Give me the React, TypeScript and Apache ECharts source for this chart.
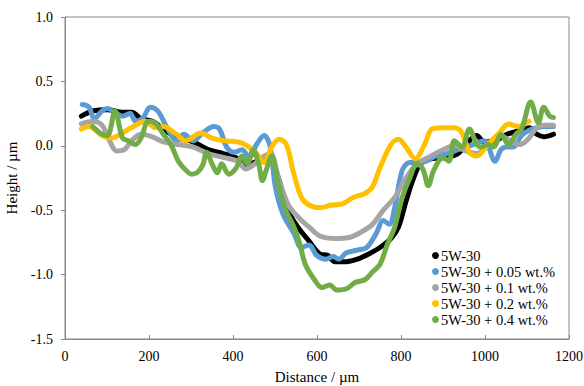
import React, { useEffect, useRef } from "react";
import * as echarts from "echarts";

const seriesNames = [
  "5W-30",
  "5W-30 + 0.05 wt.%",
  "5W-30 + 0.1 wt.%",
  "5W-30 + 0.2 wt.%",
  "5W-30 + 0.4 wt.%",
];

const colors = ["#000000", "#5B9BD5", "#A5A5A5", "#FFC000", "#70AD47"];

const base: number[][] = [
  [39, 0.23], [66, 0.27], [101, 0.28], [137, 0.26], [159, 0.26], [181, 0.21], [208, 0.19],
  [234, 0.13], [270, 0.06], [305, 0.03], [341, -0.03], [377, -0.06], [412, -0.1], [434, -0.15],
  [456, -0.12], [483, -0.09], [510, -0.27], [527, -0.48], [554, -0.63], [581, -0.74], [607, -0.84],
  [625, -0.85], [643, -0.9], [670, -0.9], [696, -0.88], [723, -0.84], [750, -0.79], [776, -0.72],
  [794, -0.63], [812, -0.43], [830, -0.25], [847, -0.14], [874, -0.1], [909, -0.09], [936, -0.06],
  [963, 0.04], [980, 0.08], [998, 0.03], [1025, 0.04], [1052, 0.09], [1087, 0.12], [1105, 0.14],
  [1123, 0.09], [1140, 0.07], [1163, 0.09],
];

const add005: number[][] = [
  [41, 0.32], [57, 0.3], [70, 0.21], [88, 0.27], [101, 0.29], [119, 0.26], [137, 0.23], [155, 0.25],
  [168, 0.19], [186, 0.22], [203, 0.3], [221, 0.27], [243, 0.14], [266, 0.04], [283, 0.09],
  [305, 0.04], [328, 0.1], [354, 0.15], [368, 0.13], [385, -0.01], [403, -0.05], [421, -0.03],
  [439, -0.09], [456, 0.01], [474, 0.08], [488, 0.0], [501, -0.32], [519, -0.53], [545, -0.68],
  [563, -0.79], [581, -0.77], [599, -0.85], [621, -0.88], [639, -0.86], [652, -0.88], [670, -0.83],
  [696, -0.81], [718, -0.79], [741, -0.68], [758, -0.58], [772, -0.61], [785, -0.48], [803, -0.19],
  [821, -0.13], [847, -0.13], [883, -0.08], [909, -0.06], [936, -0.03], [972, 0.01], [998, 0.04],
  [1024, -0.12], [1038, -0.03], [1051, -0.01], [1067, -0.01], [1087, 0.08], [1105, 0.12],
  [1123, 0.14], [1140, 0.15], [1163, 0.15],
];

const add01: number[][] = [
  [39, 0.17], [66, 0.19], [88, 0.16], [106, 0.04], [123, -0.04], [141, -0.03], [159, 0.04],
  [181, 0.09], [208, 0.07], [234, 0.03], [270, 0.01], [305, -0.01], [341, -0.06], [377, -0.09],
  [412, -0.12], [430, -0.18], [448, -0.15], [465, -0.1], [488, -0.06], [510, -0.27], [532, -0.46],
  [554, -0.55], [581, -0.63], [607, -0.7], [643, -0.72], [679, -0.71], [705, -0.67], [732, -0.61],
  [758, -0.5], [785, -0.4], [812, -0.25], [838, -0.14], [865, -0.09], [900, -0.03], [927, 0.0],
  [954, -0.04], [980, -0.06], [1007, 0.01], [1034, 0.08], [1060, 0.04], [1083, 0.01], [1105, 0.06],
  [1123, 0.14], [1140, 0.16], [1163, 0.16],
];

const add02: number[][] = [
  [39, 0.13], [57, 0.15], [88, 0.08], [110, 0.06], [137, 0.1], [163, 0.15], [190, 0.19],
  [217, 0.14], [234, 0.15], [261, 0.1], [288, 0.04], [323, 0.1], [350, 0.06], [377, 0.04],
  [412, 0.03], [434, 0.0], [456, -0.06], [474, -0.13], [492, -0.01], [510, 0.05], [527, 0.01],
  [545, -0.22], [563, -0.4], [581, -0.46], [607, -0.48], [634, -0.46], [661, -0.45], [687, -0.4],
  [714, -0.37], [732, -0.32], [750, -0.17], [776, 0.01], [794, 0.05], [812, -0.01], [834, -0.1],
  [856, 0.01], [874, 0.13], [900, 0.14], [927, 0.14], [945, 0.1], [963, -0.05], [980, -0.08],
  [1007, 0.01], [1034, 0.1], [1056, 0.17], [1078, 0.15], [1105, 0.19],
];

const add04: number[][] = [
  [66, 0.15], [88, 0.09], [101, 0.08], [119, 0.27], [137, 0.06], [150, 0.04], [168, 0.01],
  [181, 0.06], [199, 0.19], [217, 0.17], [234, 0.09], [252, 0.01], [270, -0.12], [288, -0.19],
  [301, -0.22], [314, -0.21], [328, -0.15], [337, -0.05], [350, -0.14], [363, -0.21], [373, -0.14],
  [390, -0.22], [408, -0.17], [421, -0.08], [434, -0.14], [448, -0.03], [461, -0.14], [470, -0.27],
  [479, -0.19], [492, -0.08], [505, -0.25], [523, -0.48], [545, -0.63], [559, -0.76], [572, -0.92],
  [594, -1.04], [612, -1.1], [630, -1.08], [647, -1.12], [670, -1.11], [692, -1.06], [714, -1.04],
  [732, -0.98], [750, -0.92], [767, -0.77], [785, -0.63], [803, -0.4], [821, -0.25], [838, -0.14],
  [852, -0.18], [865, -0.31], [878, -0.19], [900, -0.09], [914, -0.12], [927, 0.04], [945, -0.01],
  [963, 0.13], [978, 0.03], [989, -0.01], [1007, 0.01], [1020, -0.01], [1038, 0.09], [1056, 0.01],
  [1074, 0.09], [1087, 0.13], [1109, 0.34], [1127, 0.18], [1140, 0.3], [1154, 0.23], [1163, 0.22],
];

const seriesData = [base, add005, add01, add02, add04];

const xMin = 0;
const xMax = 1200;
const xStep = 200;
const yMin = -1.5;
const yMax = 1.0;
const yStep = 0.5;

const FONT = "'Liberation Serif', 'Times New Roman', Times, serif";
const AXIS_GREY = "#898989";

export default function App() {
  const ref = useRef<HTMLDivElement>(null);
  useEffect(() => {
    if (!ref.current) return;
    const chart = echarts.init(ref.current, undefined, { renderer: "svg" });
    chart.setOption({
      animation: false,
      backgroundColor: "#ffffff",
      textStyle: { fontFamily: FONT },
      grid: {
        left: 65,
        right: 15,
        top: 17,
        bottom: 47,
        containLabel: false,
        outerBoundsMode: "none",
        show: true,
        borderColor: AXIS_GREY,
        borderWidth: 1,
      },
      legend: {
        orient: "vertical",
        left: 432,
        top: 248,
        icon: "circle",
        itemWidth: 7,
        itemHeight: 7,
        itemGap: 1,
        padding: 0,
        textStyle: { fontFamily: FONT, fontSize: 14.5, color: "#000", padding: [0, 0, 0, -3] },
        data: seriesNames,
      },
      xAxis: {
        type: "value",
        min: xMin,
        max: xMax,
        interval: xStep,
        name: "Distance / µm",
        nameLocation: "middle",
        nameGap: 30,
        nameTextStyle: { fontFamily: FONT, fontSize: 15, color: "#000" },
        axisLine: { show: true, onZero: false, lineStyle: { color: AXIS_GREY, width: 1 } },
        axisTick: { show: true, inside: true, length: 4, lineStyle: { color: AXIS_GREY } },
        axisLabel: {
          fontFamily: FONT,
          fontSize: 14,
          color: "#000",
          margin: 10,
          formatter: (v: number) => String(v),
        },
        splitLine: { show: false },
      },
      yAxis: {
        type: "value",
        min: yMin,
        max: yMax,
        interval: yStep,
        name: "Height / µm",
        nameLocation: "middle",
        nameGap: 43,
        nameTextStyle: { fontFamily: FONT, fontSize: 15, color: "#000" },
        axisLine: { show: true, onZero: false, lineStyle: { color: AXIS_GREY, width: 1 } },
        axisTick: { show: true, inside: false, length: 4, lineStyle: { color: AXIS_GREY } },
        axisLabel: {
          fontFamily: FONT,
          fontSize: 14,
          color: "#000",
          margin: 12,
          formatter: (v: number) => v.toFixed(1),
        },
        splitLine: { show: false },
      },
      series: seriesNames.map((name, i) => ({
        name,
        type: "line",
        data: seriesData[i],
        smooth: 0.35,
        showSymbol: false,
        symbol: "circle",
        color: colors[i],
        lineStyle: { width: 5, color: colors[i], cap: "round", join: "round" },
        z: 2 + i,
      })),
    });
    return () => chart.dispose();
  }, []);
  return <div ref={ref} style={{ width: 584, height: 386, position: "absolute", left: 0, top: 0 }} />;
}
